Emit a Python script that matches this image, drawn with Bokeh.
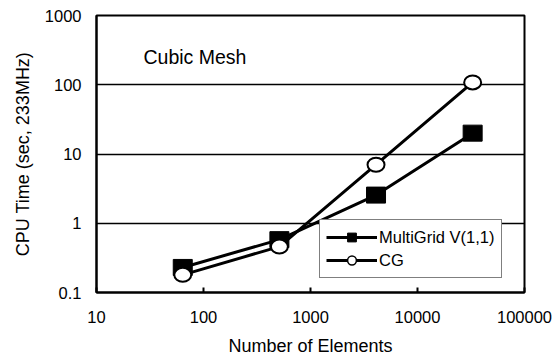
from bokeh.plotting import figure
from bokeh.models import (FixedTicker, CustomJSTickFormatter, Legend, LegendItem, Label)
from bokeh.embed import file_html
from bokeh.resources import INLINE

elements = [64, 512, 4096, 32768]
multigrid = [0.23, 0.58, 2.55, 20.0]
cg = [0.18, 0.46, 7.0, 108.0]
x_ticks = [10, 100, 1000, 10000, 100000]
y_ticks = [0.1, 1, 10, 100, 1000]

FONT = "Liberation Sans"

p = figure(width=560, height=358, x_axis_type="log", y_axis_type="log",
           x_range=(10, 100000), y_range=(0.1, 1000),
           output_backend="svg", toolbar_location=None,
           min_border_left=96, min_border_right=36, min_border_top=15, min_border_bottom=66)
p.background_fill_color = "white"
p.border_fill_color = "white"
p.outline_line_color = "black"
p.outline_line_width = 2

fmt = CustomJSTickFormatter(code="return tick >= 1 ? tick.toFixed(0) : tick.toString();")
for ax, ticks in ((p.xaxis[0], x_ticks), (p.yaxis[0], y_ticks)):
    ax.ticker = FixedTicker(ticks=ticks, minor_ticks=[])
    ax.formatter = fmt
    ax.axis_line_color = "black"
    ax.axis_line_width = 2
    ax.major_tick_line_color = "black"
    ax.major_tick_line_width = 2
    ax.minor_tick_line_color = None
    ax.major_label_text_font = FONT
    ax.major_label_text_font_size = "16.5px"
    ax.major_label_text_color = "black"
    ax.axis_label_text_font = FONT
    ax.axis_label_text_font_size = "18px"
    ax.axis_label_text_font_style = "normal"
    ax.axis_label_text_color = "black"

p.xaxis.axis_label = "Number of Elements"
p.yaxis.axis_label = "CPU Time (sec, 233MHz)"
p.xaxis.major_tick_in = 5
p.xaxis.major_tick_out = 0
p.yaxis.major_tick_in = 0
p.yaxis.major_tick_out = 0
p.xaxis.major_label_standoff = 18
p.xaxis.axis_label_standoff = 10
p.yaxis.major_label_standoff = 15
p.yaxis.axis_label_standoff = 9

p.xgrid.grid_line_color = None
p.ygrid.grid_line_color = "black"
p.ygrid.grid_line_width = 1.6

# data
p.line(elements, multigrid, line_color="black", line_width=3)
p.rect(elements, multigrid, width=19, height=16, width_units="screen", height_units="screen",
       fill_color="black", line_color="black")
p.line(elements, cg, line_color="black", line_width=3)
p.ellipse(elements, cg, width=17, height=14, width_units="screen", height_units="screen",
          fill_color="white", line_color="black", line_width=2)

# legend proxies
nan = [float("nan")]
lm = p.line(nan, nan, line_color="black", line_width=3)
sm = p.scatter(nan, nan, marker="square", size=12, fill_color="black", line_color="black")
lc = p.line(nan, nan, line_color="black", line_width=3)
sc = p.scatter(nan, nan, marker="circle", size=9, fill_color="white", line_color="black", line_width=1.5)

legend = Legend(items=[LegendItem(label="MultiGrid V(1,1)", renderers=[lm, sm]),
                       LegendItem(label="CG", renderers=[lc, sc])],
                location=(223, 14))
legend.label_text_font = FONT
legend.label_text_font_size = "16.5px"
legend.label_text_color = "black"
legend.glyph_width = 51
legend.glyph_height = 22
legend.label_height = 22
legend.label_standoff = 2
legend.spacing = 1
legend.padding = 6
legend.margin = 0
legend.border_line_color = "black"
legend.border_line_width = 1.5
legend.background_fill_color = "white"
legend.background_fill_alpha = 1
p.add_layout(legend, "center")

title = Label(x=27.5, y=254, text="Cubic Mesh", text_font=FONT, text_font_size="19.5px",
              text_color="black", text_align="left", text_baseline="alphabetic")
p.add_layout(title)

open("out.html", "w").write(file_html(p, INLINE))
